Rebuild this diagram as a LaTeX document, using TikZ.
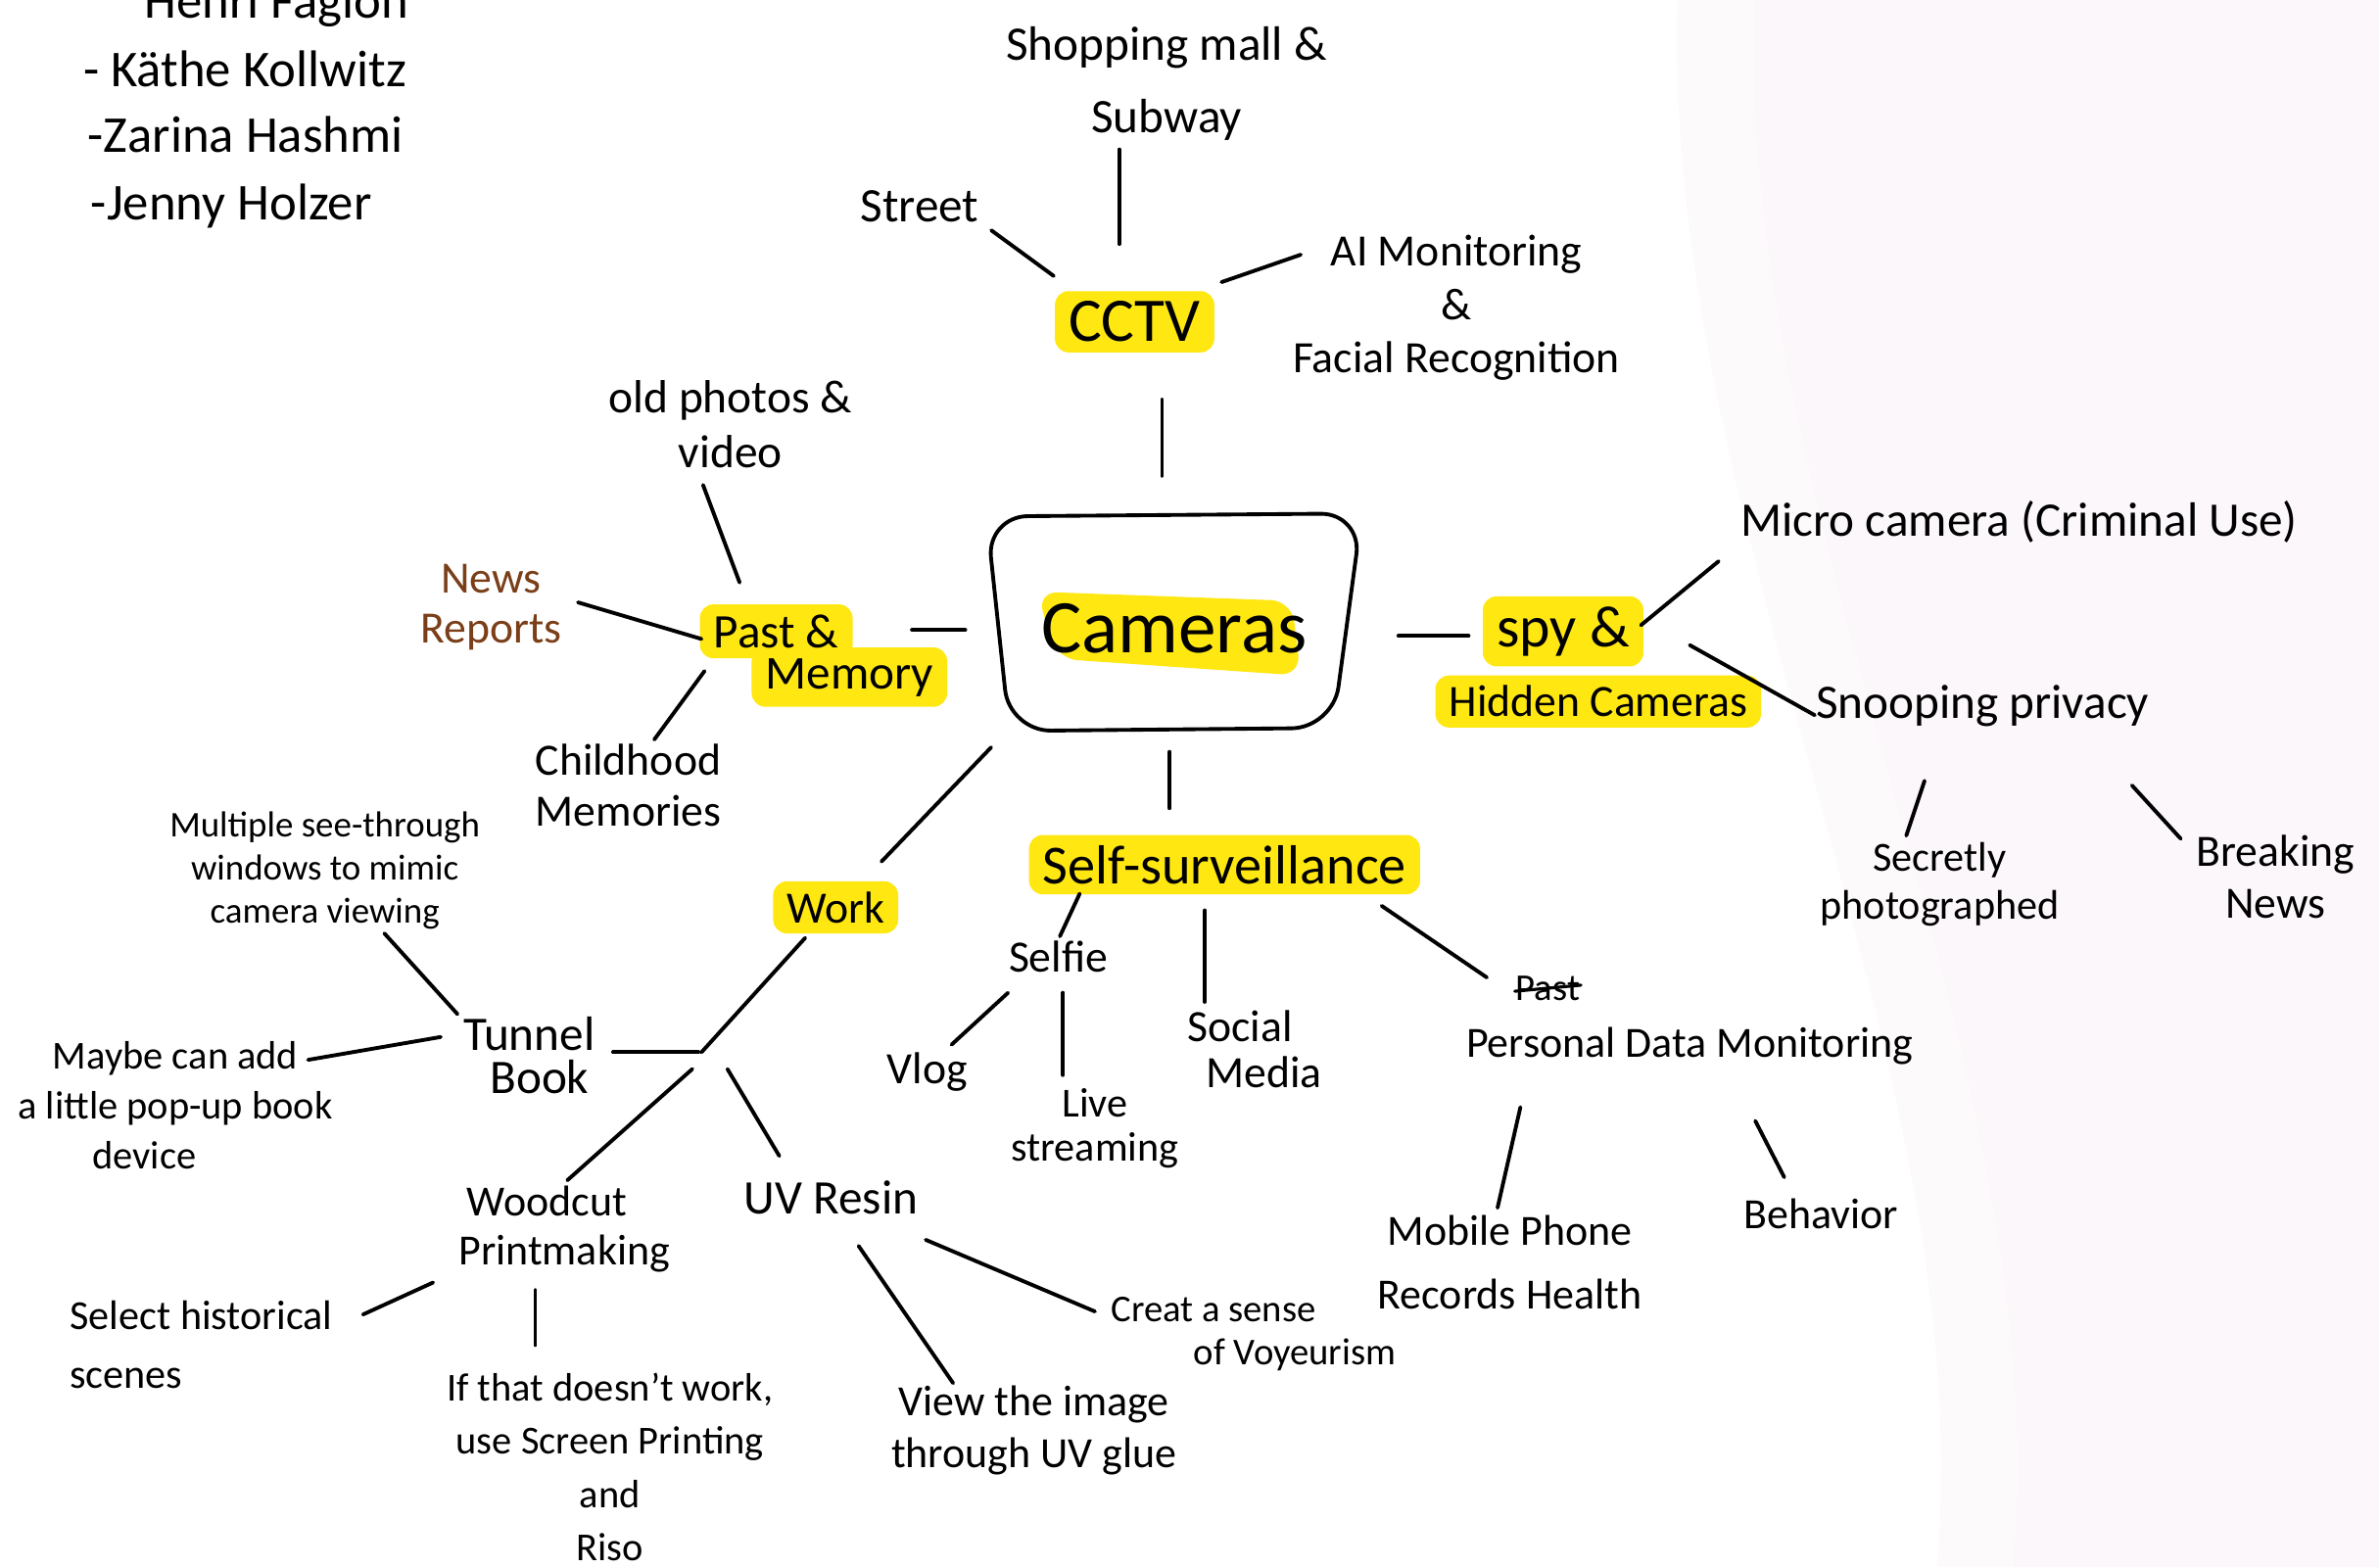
\documentclass[tikz,border=0pt]{standalone}
\usepackage{fontspec}
\setmainfont{Carlito}
\usetikzlibrary{calc}
\definecolor{hly}{RGB}{255,231,18}
\definecolor{brn}{RGB}{122,62,24}
\definecolor{pinkbg}{RGB}{252,247,250}
\definecolor{pinkbgb}{RGB}{253,250,252}
\newcommand\fsz[2]{\fontsize{#1}{#2}\selectfont}
\tikzset{
  txt/.style={inner sep=1pt, align=center},
  hl/.style={fill=hly, rounded corners=4pt, inner xsep=4pt, inner ysep=3pt},
  ln/.style={line width=1.1pt, line cap=round},
}
\begin{document}
\begin{tikzpicture}[x=0.01557cm,y=-0.01557cm]
\useasboundingbox (0,0) rectangle (1560,1027.6);
\clip (0,0) rectangle (1560,1027.6);
\fill[white] (0,0) rectangle (1560,1027.6);
\fill[pinkbgb] (1100,0) -- (1560,0) -- (1560,1027.6) -- (1270,1027.6) .. controls (1300,700) and (1090,350) .. (1100,0) -- cycle;
\fill[pinkbg] (1150,0) -- (1560,0) -- (1560,1027.6) -- (1320,1027.6) .. controls (1350,700) and (1140,350) .. (1150,0) -- cycle;

% artist list
\node[txt, anchor=base west, font=\fsz{15}{18}] (henri) at (92,12) {Henri Faglon};
\node[txt, anchor=base west, font=\fsz{15}{18}] (kathe) at (52,57) {- Käthe Kollwitz};
\node[txt, anchor=base west, font=\fsz{15}{18}] (zarina) at (55,100) {-Zarina Hashmi};
\node[txt, anchor=base west, font=\fsz{15}{18}] (jenny) at (57,144) {-Jenny Holzer};

% CCTV branch
\node[txt, font=\fsz{14}{21}] (shop) at (765,55) {Shopping mall \&\\Subway};
\node[txt, font=\fsz{14}{17}] (street) at (603,135) {Street};
\node[txt, hl, font=\fsz{18}{20}] (cctv) at (744,211) {CCTV};
\node[txt, font=\fsz{13}{15.5}] (ai) at (955,202) {AI Monitoring\\\&\\Facial Recognition};

% central node
\fill[hly, rounded corners=6pt] (680,388) -- (847,394) -- (853,443) -- (693,432) -- cycle;
\node[txt, minimum width=113pt, minimum height=61pt, text height=16pt, text depth=1.8pt, font=\fsz{22}{24}] (cam) at (770,412) {Cameras};
\draw[ln, rounded corners=12pt] ($(cam.north west)+(5,-4)$) -- ($(cam.north east)+(-5,-6)$) -- ($(cam.south east)+(-24,-4)$) -- ($(cam.south west)+(20,-2)$) -- cycle;

% Past & Memory branch
\node[txt, font=\fsz{13.5}{16}] (old) at (479,278) {old photos \&\\video};
\node[txt, font=\fsz{13}{14.5}, text=brn] (news) at (322,398) {News\\Reports};
\node[txt, hl, font=\fsz{14}{16}] (past2) at (557,444) {Memory};
\node[txt, hl, font=\fsz{14}{16}] (past1) at (509,414) {Past \&};
\node[txt, font=\fsz{13}{15}] (child) at (412,515) {Childhood\\Memories};

% Spy branch
\node[txt, hl, font=\fsz{13}{15}] (spy2) at (1048,460) {Hidden Cameras};
\node[txt, hl, font=\fsz{17}{19}] (spy1) at (1025,414) {spy \&};
\node[txt, font=\fsz{14}{17}] (micro) at (1324,342) {Micro camera (Criminal Use)};
\node[txt, font=\fsz{14}{17}] (snoop) at (1300,463) {Snooping privacy};
\node[txt, font=\fsz{12}{14}] (secret) at (1272,580) {Secretly\\photographed};
\node[txt, font=\fsz{13}{15}] (break) at (1492,575) {Breaking\\News};

% Self-surveillance branch
\node[txt, hl, font=\fsz{16}{18}] (self) at (803,567) {Self-surveillance};
\node[txt, font=\fsz{13}{15}] (selfie) at (694,627) {Selfie};
\node[txt, font=\fsz{13}{15}] (vlog) at (608,703) {Vlog};
\node[txt, font=\fsz{12}{13}] (live) at (718,740) {Live\\streaming};
\node[txt, font=\fsz{13}{13.5}] (social) at (813,688) {Social\\\hspace*{14pt}Media};
\node[txt, font=\fsz{11}{13}] (pastx) at (1015,648) {Past};
\draw[ln, line width=0.9pt] ($(pastx.west)+(2,2)$) -- ($(pastx.east)+(-2,-2)$);
\node[txt, font=\fsz{12.5}{15}] (pdm) at (1108,686) {Personal Data Monitoring};
\node[txt, font=\fsz{12.5}{18.5}] (mobile) at (990,828) {Mobile Phone\\Records Health};
\node[txt, font=\fsz{12.5}{15}] (behav) at (1194,796) {Behavior};

% Work branch
\node[txt, hl, font=\fsz{13}{15}] (work) at (548,595) {Work};
\coordinate (j) at (458,692);
\node[txt, font=\fsz{14}{12.5}] (tunnel) at (347,692) {Tunnel\\\hspace*{6pt}Book};
\node[txt, font=\fsz{10.5}{12.5}] (multi) at (213,571) {Multiple see-through\\windows to mimic\\camera viewing};
\node[txt, font=\fsz{11.5}{14.5}] (maybe) at (115,725) {Maybe can add\\a little pop-up book\\device\hspace*{18pt}};
\node[txt, font=\fsz{12.5}{14}] (wood) at (370,806) {Woodcut\hspace*{10pt}\\Printmaking};
\node[txt, font=\fsz{14}{17}] (uv) at (545,785) {UV Resin};
\node[txt, font=\fsz{12}{17}, align=left] (select) at (132,882) {Select historical\\scenes};
\node[txt, font=\fsz{11.5}{15.5}] (ifthat) at (400,962) {If that doesn't work,\\use Screen Printing\\and\\Riso};
\node[txt, font=\fsz{12.5}{15}] (view) at (678,938) {View the image\\through UV glue};
\node[txt, font=\fsz{11}{12.5}, align=left] (creat) at (822,875) {Creat a sense\\\hspace*{24pt}of Voyeurism};

% connectors
\draw[ln] ($(street)+(47,16)$) -- ($(cctv)+(-53,-30)$);
\draw[ln] ($(shop)+(-31,43)$) -- ($(cctv)+(-10,-51)$);
\draw[ln] ($(cctv)+(57,-26)$) -- ($(ai)+(-102,-35)$);
\draw[ln] ($(cctv)+(18,51)$) -- ($(cam)+(-8,-100)$);
\draw[ln] ($(old)+(-18,40)$) -- ($(past1)+(-24,-32)$);
\draw[ln] ($(news)+(57,-3)$) -- ($(past1)+(-49,5)$);
\draw[ln] ($(child)+(17,-30)$) -- ($(past1)+(-47,26)$);
\draw[ln] ($(past1)+(89,-1)$) -- ($(cam)+(-137,1)$);
\draw[ln] ($(cam)+(147,5)$) -- ($(spy1)+(-62,3)$);
\draw[ln] ($(spy1)+(51,-4)$) -- ($(micro)+(-197,26)$);
\draw[ln] ($(spy1)+(83,9)$) -- ($(snoop)+(-110,6)$);
\draw[ln] ($(snoop)+(-38,49)$) -- ($(secret)+(-22,-32)$);
\draw[ln] ($(snoop)+(98,52)$) -- ($(break)+(-62,-25)$);
\draw[ln] ($(cam)+(-3,81)$) -- ($(self)+(-36,-37)$);
\draw[ln] ($(self)+(-95,19)$) -- ($(selfie)+(1,-13)$);
\draw[ln] ($(selfie)+(-33,24)$) -- ($(vlog)+(16,-18)$);
\draw[ln] ($(selfie)+(3,24)$) -- ($(live)+(-21,-35)$);
\draw[ln] ($(self)+(-13,30)$) -- ($(social)+(-23,-31)$);
\draw[ln] ($(self)+(103,27)$) -- ($(pdm)+(-133,-45)$);
\draw[ln] ($(pdm)+(-111,40)$) -- ($(mobile)+(-8,-36)$);
\draw[ln] ($(pdm)+(43,49)$) -- ($(behav)+(-24,-24)$);
\draw[ln] ($(cam)+(-120,78)$) -- ($(work)+(30,-30)$);
\draw[ln] ($(work)+(-20,20)$) -- ($(j)+(2,-2)$);
\draw[ln] ($(tunnel)+(55,-2)$) -- ($(j)+(0,-2)$);
\draw[ln] ($(j)+(-4,9)$) -- ($(wood)+(2,-32)$);
\draw[ln] ($(j)+(19,9)$) -- ($(uv)+(-34,-27)$);
\draw[ln] ($(multi)+(39,41)$) -- ($(tunnel)+(-47,-27)$);
\draw[ln] ($(maybe)+(87,-30)$) -- ($(tunnel)+(-58,-12)$);
\draw[ln] ($(wood)+(-86,35)$) -- ($(select)+(106,-20)$);
\draw[ln] ($(wood)+(-19,40)$) -- ($(ifthat)+(-49,-80)$);
\draw[ln] ($(uv)+(18,32)$) -- ($(view)+(-53,-31)$);
\draw[ln] ($(uv)+(62,28)$) -- ($(creat)+(-104,-15)$);
\end{tikzpicture}
\end{document}
